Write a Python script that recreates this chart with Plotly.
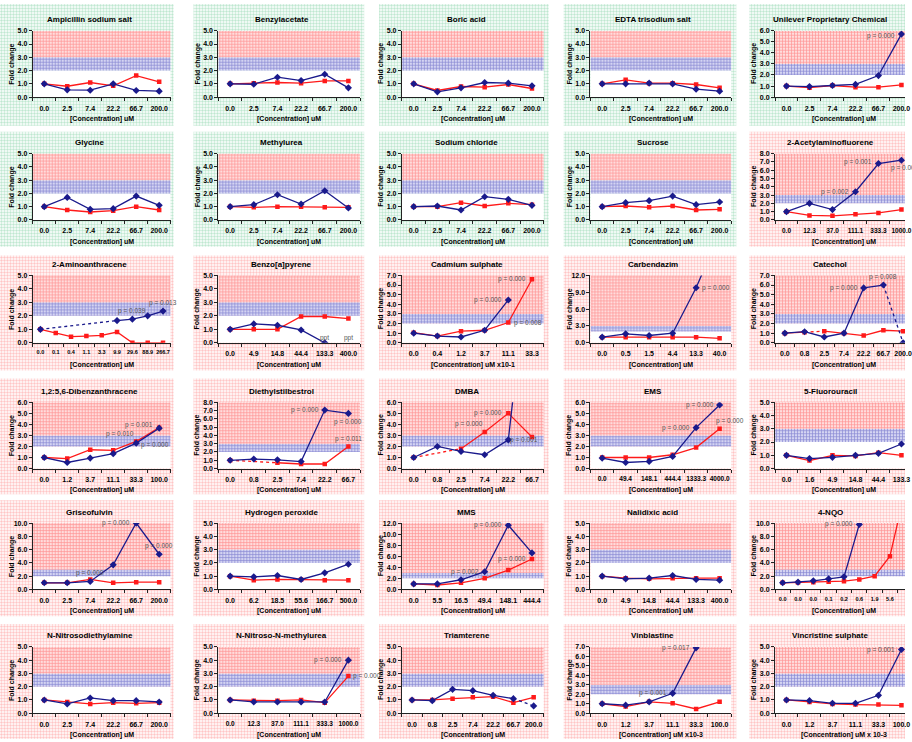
import plotly.graph_objects as go

W, H = 912, 742

# ---------------------------------------------------------------- data
TITLES = [
    "Ampicillin sodium salt", "Benzylacetate", "Boric acid", "EDTA trisodium salt",
    "Unilever Proprietary Chemical",
    "Glycine", "Methylurea", "Sodium chloride", "Sucrose", "2-Acetylaminofluorene",
    "2-Aminoanthracene", "Benzo[a]pyrene", "Cadmium sulphate", "Carbendazim", "Catechol",
    "1,2:5,6-Dibenzanthracene", "Diethylstilbestrol", "DMBA", "EMS", "5-Fluorouracil",
    "Griseofulvin", "Hydrogen peroxide", "MMS", "Nalidixic acid", "4-NQO",
    "N-Nitrosodiethylamine", "N-Nitroso-N-methylurea", "Triamterene", "Vinblastine",
    "Vincristine sulphate",
]

C_STD = ["0.0", "2.5", "7.4", "22.2", "66.7", "200.0"]
C_1000 = ["0.0", "12.3", "37.0", "111.1", "333.3", "1000.0"]
C_2AA = ["0.0", "0.1", "0.4", "1.1", "3.3", "9.9", "29.6", "88.9", "266.7"]
C_400 = ["0.0", "4.9", "14.8", "44.4", "133.3", "400.0"]
C_CD = ["0.0", "0.4", "1.2", "3.7", "11.1", "33.3"]
C_CARB = ["0.0", "0.5", "1.5", "4.4", "13.3", "40.0"]
C_SEVEN = ["0.0", "0.8", "2.5", "7.4", "22.2", "66.7", "200.0"]
C_100 = ["0.0", "1.2", "3.7", "11.1", "33.3", "100.0"]
C_DES = ["0.0", "0.8", "2.5", "7.4", "22.2", "66.7"]
C_EMS = ["0.0", "49.4", "148.1", "444.4", "1333.3", "4000.0"]
C_5FU = ["0.0", "1.6", "4.9", "14.8", "44.4", "133.3"]
C_H2O2 = ["0.0", "6.2", "18.5", "55.6", "166.7", "500.0"]
C_MMS = ["0.0", "5.5", "16.5", "49.4", "148.1", "444.4"]
C_NQO = ["0.0", "0.0", "0.0", "0.1", "0.2", "0.6", "1.9", "5.6", "16.7"]

CONC = [
    C_STD, C_STD, C_STD, C_STD, C_STD,
    C_STD, C_STD, C_STD, C_STD, C_1000,
    C_2AA, C_400, C_CD, C_CARB, C_SEVEN,
    C_100, C_DES, C_DES, C_EMS, C_5FU,
    C_STD, C_H2O2, C_MMS, C_400, C_NQO,
    C_STD, C_1000, C_SEVEN, C_100, C_100,
]

X_TITLES = ["[Concentration] uM"] * 30
X_TITLES[12] = "[Concentration] uM x10-1"
X_TITLES[28] = "[Concentration] uM x10-3"
X_TITLES[29] = "[Concentration] uM x 10-3"

# fold change, navy series
BLUE = [
    [1.0, 0.55, 0.52, 1.0, 0.5, 0.45],
    [1.0, 0.97, 1.5, 1.25, 1.72, 0.7],
    [1.0, 0.4, 0.7, 1.1, 1.05, 0.85],
    [1.0, 1.0, 1.05, 1.0, 0.6, 0.45],
    [1.0, 0.95, 1.05, 1.15, 1.95, 5.7],
    [1.0, 1.7, 0.8, 0.85, 1.8, 1.1],
    [1.0, 1.15, 1.9, 1.2, 2.2, 0.9],
    [1.0, 1.05, 0.75, 1.75, 1.55, 1.1],
    [1.0, 1.3, 1.45, 1.8, 1.15, 1.35],
    [1.0, 2.0, 1.25, 3.4, 6.8, 7.2],
    [1.0, None, None, None, None, 1.65, 1.75, 2.0, 2.35],
    [1.0, 1.4, 1.3, 0.95, 0.0, None],
    [1.0, 0.7, 0.6, 1.3, 4.45, None],
    [1.0, 1.6, 1.3, 1.7, 9.8, 19.5],
    [1.0, 1.15, 0.6, 1.0, 5.7, 6.0, 0.0],
    [1.0, 0.55, 0.95, 1.35, 2.3, 3.65],
    [1.0, 1.15, 1.05, 0.85, 7.05, 6.65],
    [1.0, 2.0, 1.55, 1.25, 2.6, 21.5],
    [0.95, 0.55, 0.65, 1.1, 3.7, 5.75],
    [1.0, 0.75, 0.85, 1.0, 1.15, 1.85],
    [1.0, 1.0, 1.2, 3.7, 10.0, 5.3],
    [1.0, 0.95, 1.05, 0.75, 1.25, 1.9],
    [1.0, 1.0, 1.75, 3.2, 11.6, 6.6],
    [1.0, 0.8, 0.85, 1.05, 0.75, 0.7],
    [1.0, 1.1, 1.3, 1.6, 1.9, 9.8, None, None, None],
    [1.0, 0.7, 1.15, 0.95, 0.95, 0.85],
    [1.0, 0.85, 0.85, 0.85, 0.85, 4.0],
    [1.0, 0.95, 1.8, 1.7, 1.35, 1.1, 0.55],
    [1.0, 0.85, 1.2, 2.1, 6.9, None],
    [1.0, 0.95, 0.75, 0.75, 1.35, 4.8],
]

# fold change, red series
RED = [
    [1.0, 0.82, 1.1, 0.85, 1.62, 1.15],
    [1.0, 1.05, 1.1, 1.05, 1.22, 1.22],
    [1.0, 0.5, 0.8, 0.75, 0.95, 0.65],
    [1.0, 1.3, 1.05, 1.05, 0.95, 0.7],
    [1.0, 0.85, 1.05, 0.9, 0.9, 1.1],
    [1.0, 0.75, 0.6, 0.7, 1.0, 0.75],
    [1.0, 0.95, 1.0, 1.0, 0.95, 0.95],
    [1.0, 1.0, 1.3, 1.05, 1.25, 1.15],
    [1.0, 1.05, 0.95, 1.05, 0.75, 0.8],
    [1.0, 0.55, 0.5, 0.7, 0.85, 1.25],
    [1.0, 0.72, 0.45, 0.5, 0.55, 0.8, 0.0, 0.0, 0.0],
    [1.0, 1.0, 1.0, 1.95, 1.95, 1.8],
    [1.05, 0.7, 1.2, 1.3, 2.1, 6.6],
    [1.0, 1.0, 1.0, 1.0, 1.0, 0.8],
    [1.0, 1.1, 1.2, 1.0, 0.75, 1.3, 1.2],
    [1.0, 0.9, 1.7, 1.65, 2.45, 3.7],
    [1.0, None, 0.7, 0.55, 0.55, 2.65],
    [1.0, None, 1.8, 3.3, 5.0, 2.85],
    [1.0, 1.0, 1.0, 1.25, 1.9, 3.6],
    [1.0, 0.6, 1.0, 0.95, 1.2, 1.0],
    [1.0, 1.0, 1.5, 1.0, 1.1, 1.1],
    [1.0, 0.7, 0.75, 0.75, 0.7, 0.7],
    [1.0, 0.8, 1.2, 2.0, 3.5, 5.5],
    [1.0, 0.85, 0.8, 0.85, 0.85, 0.85],
    [1.0, 1.05, 1.1, 1.15, 1.25, 1.5, 2.0, 5.0, 15.0],
    [1.0, 0.85, 0.7, 0.8, 0.75, 0.8],
    [1.0, 0.95, 0.95, 1.0, 0.8, 2.8],
    [1.0, 1.0, 1.1, 1.2, 1.25, 0.8, 1.2],
    [1.0, 0.7, 1.2, 1.05, 0.45, 1.2],
    [1.0, 0.85, 0.7, 0.65, 0.65, 0.6],
]

Y_MAX = [5, 5, 5, 5, 6,
         5, 5, 5, 5, 8,
         5, 5, 7, 12, 7,
         6, 8, 6, 6, 5,
         10, 5, 12, 5, 10,
         5, 5, 5, 7, 5]
Y_STEP = [1] * 30
Y_STEP[13] = 3
Y_STEP[20] = 2
Y_STEP[22] = 2
Y_STEP[24] = 2

# 1 = positive control (red dotted panel), 0 = negative (green dotted panel)
POSITIVE = [0, 0, 0, 0, 0,
            0, 0, 0, 0, 1,
            1, 1, 1, 1, 1,
            1, 1, 1, 1, 1,
            1, 1, 1, 1, 1,
            1, 1, 1, 1, 1]

# segments joined by a dotted line: (panel, series, from index, to index)
DOTTED = [
    (10, "b", 0, 5),
    (14, "r", 1, 2),
    (14, "b", 5, 6),
    (16, "r", 0, 2),
    (17, "r", 0, 2),
    (27, "b", 5, 6),
]

# significance labels: (panel, series, index, text)
P_LABELS = [
    (4, "b", 5, "p = 0.000"),
    (9, "b", 3, "p = 0.002"), (9, "b", 4, "p = 0.001"), (9, "b", 5, "p = 0.001"),
    (10, "b", 6, "p = 0.039"), (10, "b", 8, "p = 0.013"),
    (11, "b", 4, "ppt"), (11, "b", 5, "ppt"),
    (12, "b", 4, "p = 0.000"), (12, "r", 5, "p = 0.000"), (12, "r", 4, "p = 0.008"),
    (13, "b", 4, "p = 0.000"),
    (14, "b", 4, "p = 0.000"), (14, "b", 5, "p = 0.008"),
    (15, "r", 5, "p = 0.001"), (15, "r", 4, "p = 0.010"), (15, "b", 4, "p = 0.000"),
    (16, "b", 4, "p = 0.000"), (16, "b", 5, "p = 0.000"), (16, "r", 5, "p = 0.011"),
    (17, "b", 4, "p = 0.001"), (17, "r", 4, "p = 0.000"), (17, "r", 3, "p = 0.000"),
    (18, "b", 4, "p = 0.000"), (18, "b", 5, "p = 0.000"), (18, "r", 5, "p = 0.000"),
    (20, "b", 4, "p = 0.000"), (20, "b", 5, "p = 0.000"), (20, "b", 2, "p = 0.000"),
    (22, "b", 4, "p = 0.000"), (22, "b", 3, "p = 0.002"), (22, "r", 5, "p = 0.000"),
    (24, "b", 5, "p = 0.000"),
    (26, "b", 5, "p = 0.000"), (26, "r", 5, "p = 0.000"),
    (28, "b", 4, "p = 0.017"), (28, "b", 3, "p = 0.001"),
    (29, "b", 5, "p = 0.001"),
]
# placement of each label relative to its point: (xanchor, dx px, dy px)
P_PLACE = {
    (4, "b", 5): ("right", -4, -2),
    (9, "b", 3): ("right", -4, 0), (9, "b", 4): ("right", -4, 2), (9, "b", 5): ("left", -12, -8),
    (10, "b", 6): ("center", 0, 8), (10, "b", 8): ("center", 0, 8),
    (11, "b", 4): ("center", 0, 5), (11, "b", 5): ("center", 0, 5),
    (12, "b", 4): ("right", -4, 0), (12, "r", 5): ("right", -4, 0), (12, "r", 4): ("left", 4, 0),
    (13, "b", 4): ("left", 4, 0),
    (14, "b", 4): ("right", -4, 0), (14, "b", 5): ("center", 0, 8),
    (15, "r", 5): ("right", -4, 3), (15, "r", 4): ("right", 0, 7), (15, "b", 4): ("left", 3, -2),
    (16, "b", 4): ("right", -4, 0), (16, "b", 5): ("center", 0, -9), (16, "r", 5): ("center", 0, 8),
    (17, "b", 4): ("left", 0, 0), (17, "r", 4): ("right", -4, 0), (17, "r", 3): ("right", 0, 8),
    (18, "b", 4): ("right", -4, 0), (18, "b", 5): ("right", -4, 0), (18, "r", 5): ("left", -6, 8),
    (20, "b", 4): ("right", -4, 0), (20, "b", 5): ("center", 0, 8), (20, "b", 2): ("center", 0, 8),
    (22, "b", 4): ("right", -4, 0), (22, "b", 3): ("right", -4, 0), (22, "r", 5): ("right", -4, 0),
    (24, "b", 5): ("right", -4, 0),
    (26, "b", 5): ("right", -4, 0), (26, "r", 5): ("left", 3, 0),
    (28, "b", 4): ("right", -4, 0), (28, "b", 3): ("right", -4, 0),
    (29, "b", 5): ("right", -4, 0),
}

# ---------------------------------------------------------------- layout geometry (px)
COL_PLOT = [(33, 172), (220, 363), (405, 548), (595, 737), (781, 920)]
ROW_PLOT = [(27, 94), (151, 218), (274, 342), (402, 469), (524, 591), (649, 716)]
COL_BG = [(0, 175), (195, 367), (382, 553), (568, 742), (755, 912)]
ROW_BG = [(0, 123), (129, 245), (254, 370), (378, 495), (501, 618), (626, 742)]

FONT = "Liberation Sans"
NAVY = "#1a1a8c"
RED_C = "#ff1a1a"


def fx(px):
    return px / W


def fy(py):
    return 1 - py / H


fig = go.Figure()
layout = dict(
    width=W, height=H, autosize=False,
    margin=dict(l=0, r=0, t=0, b=0, pad=0),
    paper_bgcolor="white", plot_bgcolor="rgba(0,0,0,0)",
    showlegend=False, hovermode=False,
    xaxis=dict(domain=[0, 1], range=[0, W], visible=False, fixedrange=True),
    yaxis=dict(domain=[0, 1], range=[H, 0], visible=False, fixedrange=True),
)
annotations = []

# dotted panel backgrounds on a full-page axis
for k in range(30):
    r, c = divmod(k, 5)
    x0, x1 = COL_BG[c]
    y0, y1 = ROW_BG[r]
    dot = "#ff8c8c" if POSITIVE[k] else "#7fcfa2"
    fig.add_trace(go.Scatter(
        x=[x0, x1, x1, x0, x0], y=[y0, y0, y1, y1, y0], mode="lines",
        line=dict(width=0), fill="toself", fillcolor="white",
        fillpattern=dict(shape=".", fgcolor=dot, bgcolor="white", size=3, solidity=0.5),
        xaxis="x", yaxis="y", hoverinfo="skip"))


def split_series(vals, dotted_pairs):
    """solid polyline (broken at dotted joins) and dotted polyline"""
    sx, sy = [], []
    breaks = {a for a, b in dotted_pairs}
    for i, v in enumerate(vals):
        sx.append(i)
        sy.append(v)
        if i in breaks:
            sx.append(None)
            sy.append(None)
    dx, dy = [], []
    for a, b in dotted_pairs:
        dx += [a, b, None]
        dy += [vals[a], vals[b], None]
    return sx, sy, dx, dy


for k in range(30):
    r, c = divmod(k, 5)
    L, R = COL_PLOT[c]
    T, B = ROW_PLOT[r]
    n = len(CONC[k])
    ymax = Y_MAX[k]
    vis_r = min(R, W)
    xr = [-0.5, -0.5 + n * (vis_r - L) / (R - L)]
    ax_id = k + 2
    xa, ya = f"x{ax_id}", f"y{ax_id}"

    longest = max(len(t) for t in CONC[k])
    tick_font = dict(family=FONT, size=7, color="black", weight="bold")
    xsize = 5.5 if n > 7 else (7 if longest <= 5 else 6.5)
    xtick_font = dict(family=FONT, size=xsize, color="black", weight="bold")
    layout[f"xaxis{ax_id}"] = dict(
        domain=[fx(L), fx(vis_r)], range=xr, anchor=ya, fixedrange=True,
        tickmode="array", tickvals=list(range(n)), ticktext=CONC[k], tickangle=0,
        ticklabeloverflow="allow",
        ticks="", tickfont=xtick_font, showgrid=False, zeroline=False,
        showline=True, linecolor="#222", linewidth=1, ticklabelstandoff=4,
        minor=dict(tickmode="array", tickvals=[i - 0.5 for i in range(n + 1)],
                   ticks="outside", ticklen=3, tickcolor="#222", showgrid=False),
    )
    layout[f"yaxis{ax_id}"] = dict(
        domain=[fy(B), fy(T)], range=[0, ymax], anchor=xa, fixedrange=True,
        dtick=Y_STEP[k], tick0=0, tickformat=".1f", ticks="outside", ticklen=3,
        tickcolor="#222", tickfont=tick_font, showgrid=False, zeroline=False,
        showline=True, linecolor="#222", linewidth=1,
    )

    # response bands: white below 2, blue 2-3, red above 3
    bx = [-0.5, n - 0.5, n - 0.5, -0.5, -0.5]
    fig.add_trace(go.Scatter(
        x=bx, y=[0, 0, 2, 2, 0], mode="lines", line=dict(width=0),
        fill="toself", fillcolor="white", xaxis=xa, yaxis=ya, hoverinfo="skip"))
    fig.add_trace(go.Scatter(
        x=bx, y=[2, 2, 3, 3, 2], mode="lines", line=dict(width=0),
        fill="toself", fillcolor="#c8c8ee",
        fillpattern=dict(shape="+", fgcolor="#3c3cb4", bgcolor="#d4d4f2", size=3, solidity=0.4),
        xaxis=xa, yaxis=ya, hoverinfo="skip"))
    fig.add_trace(go.Scatter(
        x=bx, y=[3, 3, ymax, ymax, 3], mode="lines", line=dict(width=0),
        fill="toself", fillcolor="#ffc8c8",
        fillpattern=dict(shape="+", fgcolor="#ff4a4a", bgcolor="#ffdcdc", size=3, solidity=0.4),
        xaxis=xa, yaxis=ya, hoverinfo="skip"))

    for tag, vals, color, sym, msize in (("r", RED[k], RED_C, "square", 4.5),
                                         ("b", BLUE[k], NAVY, "diamond", 5.5)):
        pairs = [(a, b) for (p, s, a, b) in DOTTED if p == k and s == tag]
        sx, sy, dx, dy = split_series(vals, pairs)
        if dx:
            fig.add_trace(go.Scatter(
                x=dx, y=dy, mode="lines", line=dict(color=color, width=1.3, dash="dot"),
                xaxis=xa, yaxis=ya, hoverinfo="skip"))
        fig.add_trace(go.Scatter(
            x=sx, y=sy, mode="lines+markers", line=dict(color=color, width=1.3),
            marker=dict(symbol=sym, size=msize, color=color), connectgaps=False,
            xaxis=xa, yaxis=ya, hoverinfo="skip"))

    # texts: panel title, axis titles
    bx0, bx1 = COL_BG[c]
    annotations.append(dict(
        text=TITLES[k], xref="paper", yref="paper", x=fx((bx0 + min(bx1, W + 10)) / 2 + 3),
        y=fy(T - 11), xanchor="center", yanchor="middle", showarrow=False,
        font=dict(family=FONT, size=8, color="black", weight="bold")))
    annotations.append(dict(
        text=X_TITLES[k], xref="paper", yref="paper", x=fx((L + R) / 2),
        y=fy(B + 22), xanchor="center", yanchor="middle", showarrow=False,
        font=dict(family=FONT, size=7, color="black", weight="bold")))
    annotations.append(dict(
        text="Fold change", xref="paper", yref="paper", x=fx(L - 21),
        y=fy((T + B) / 2), xanchor="center", yanchor="middle", showarrow=False,
        textangle=-90, font=dict(family=FONT, size=7, color="black", weight="bold")))

for (p, s, i, txt) in P_LABELS:
    vals = BLUE[p] if s == "b" else RED[p]
    anchor, dxp, dyp = P_PLACE[(p, s, i)]
    yv = vals[i] if vals[i] is not None else 0.0
    annotations.append(dict(
        text=txt, xref=f"x{p + 2}", yref=f"y{p + 2}", x=i, y=min(yv, Y_MAX[p]),
        xanchor=anchor, yanchor="middle", xshift=dxp, yshift=dyp, showarrow=False,
        font=dict(family=FONT, size=6.5, color="#555555")))

layout["annotations"] = annotations
fig.update_layout(**layout)
fig.write_html("out.html")
